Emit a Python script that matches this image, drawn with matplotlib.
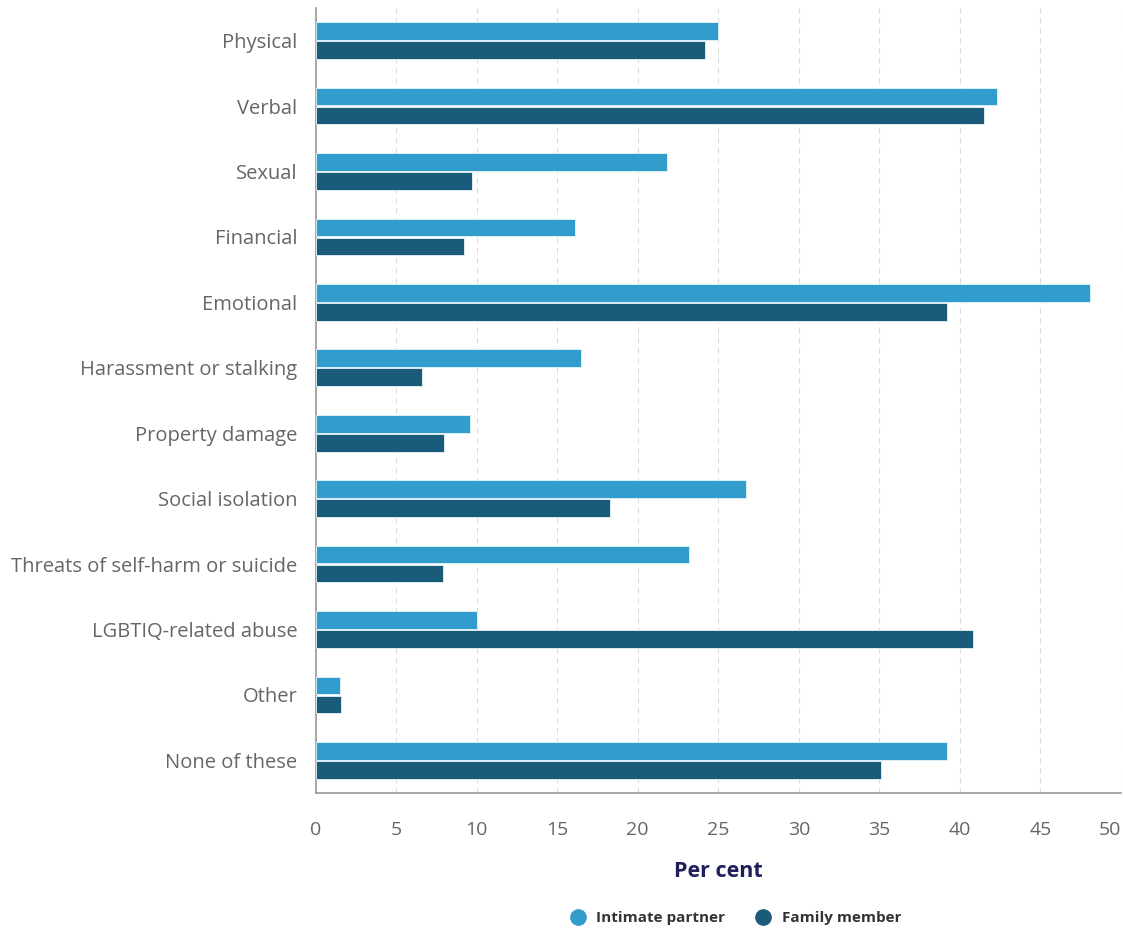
import numpy as np
import matplotlib
matplotlib.use("Agg")
import matplotlib.pyplot as plt
from matplotlib.lines import Line2D

plt.rcParams['font.family'] = ['Open Sans', 'DejaVu Sans']

# Data
categories = ['Physical', 'Verbal', 'Sexual', 'Financial', 'Emotional',
              'Harassment or stalking', 'Property damage', 'Social isolation',
              'Threats of self-harm or suicide', 'LGBTIQ-related abuse',
              'Other', 'None of these']
intimate_partner = [25.0, 42.3, 21.8, 16.1, 48.1, 16.5, 9.6, 26.7, 23.2, 10.0, 1.5, 39.2]
family_member = [24.2, 41.5, 9.7, 9.2, 39.2, 6.6, 8.0, 18.3, 7.9, 40.8, 1.6, 35.1]
x_ticks = list(range(0, 51, 5))

light_color = '#329ccc'
dark_color = '#1b5b7a'
grid_color = '#dcdcdc'
label_color = '#666666'

fig = plt.figure(figsize=(11.23, 9.31), dpi=100)
ax = fig.add_axes([315.5 / 1123, 138 / 931, (1121 - 315.5) / 1123, (923 - 138) / 931])

y = np.arange(len(categories))
bar_h = 0.27
ax.barh(y - bar_h / 2 - 0.01, intimate_partner, height=bar_h, color=light_color,
        edgecolor='#e8f4fa', linewidth=0.6, zorder=3)
ax.barh(y + bar_h / 2 + 0.01, family_member, height=bar_h, color=dark_color,
        edgecolor='#e8f4fa', linewidth=0.6, zorder=3)

ax.set_ylim(len(categories) - 0.5, -0.5)
ax.set_xlim(0, 50)
ax.set_yticks(y)
ax.set_yticklabels(categories, fontsize=14.5, color=label_color)
ax.set_xticks(x_ticks)
ax.set_xticklabels([str(t) for t in x_ticks], fontsize=14, color=label_color)
ax.tick_params(axis='y', length=0, pad=13)
ax.tick_params(axis='x', length=0, pad=20)
# last label is pulled inside the figure, like the original
last = ax.get_xticklabels()[-1]
last.set_horizontalalignment('right')

ax.grid(axis='x', color=grid_color, linestyle=(0, (5, 4)), linewidth=0.8, zorder=0)
for side in ['top', 'right']:
    ax.spines[side].set_visible(False)
ax.spines['left'].set_color('#999999')
ax.spines['bottom'].set_color('#999999')
ax.spines['left'].set_linewidth(1.2)
ax.spines['bottom'].set_linewidth(1.2)

ax.set_xlabel('Per cent', fontsize=15.5, fontweight='bold', color='#1f1f5c', labelpad=16)

handles = [Line2D([0], [0], marker='o', linestyle='', markersize=11, color=light_color),
           Line2D([0], [0], marker='o', linestyle='', markersize=11, color=dark_color)]
fig.legend(handles, ['Intimate partner', 'Family member'], loc='center',
           bbox_to_anchor=(732 / 1123, 1 - 918 / 931), ncol=2, frameon=False,
           prop={'size': 11, 'weight': 'bold'}, labelcolor='#333333',
           handletextpad=0.2, columnspacing=1.5)

fig.savefig('out.png', dpi=100)
